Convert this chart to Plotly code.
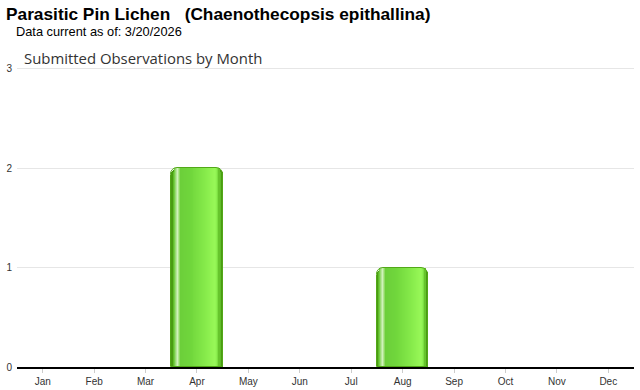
import plotly.graph_objects as go

months = ["Jan", "Feb", "Mar", "Apr", "May", "Jun", "Jul", "Aug", "Sep", "Oct", "Nov", "Dec"]
counts = [0, 0, 0, 2, 0, 0, 0, 1, 0, 0, 0, 0]
y_ticks = [0, 1, 2, 3]

title_text = "Parasitic Pin Lichen\u00a0\u00a0\u00a0(Chaenothecopsis epithallina)"
subtitle_text = "Data current as of: 3/20/2026"
chart_title = "Submitted Observations by Month"

# zero-count months get no bar shape at all
bar_y = [v if v > 0 else None for v in counts]

# --- style: horizontal gradient of each bar (position in px across a 52px bar, colour)
STOPS = [
    (0, "#4A9C12"), (1.5, "#5CB824"), (3, "#66C830"), (5, "#A8E088"),
    (6.5, "#CFF2BA"), (8, "#A0E078"), (9.5, "#6CCF3A"), (20, "#70D63C"),
    (35, "#86EA4A"), (45, "#98F858"), (47, "#88EC4C"), (48.5, "#66C42C"),
    (50, "#4FA414"), (52, "#4A9C12"),
]
BW = 52.0


def hex2rgb(h):
    h = h.lstrip("#")
    return tuple(int(h[i:i + 2], 16) for i in (0, 2, 4))


def col_at(p):
    for (p0, c0), (p1, c1) in zip(STOPS, STOPS[1:]):
        if p0 <= p <= p1:
            t = 0 if p1 == p0 else (p - p0) / (p1 - p0)
            a, b = hex2rgb(c0), hex2rgb(c1)
            return "rgb(%d,%d,%d)" % tuple(round(a[i] + (b[i] - a[i]) * t) for i in range(3))
    return STOPS[-1][1]


fig = go.Figure()

# base dark rounded bar
fig.add_trace(go.Bar(x=months, y=bar_y, width=1.0, offset=-0.5,
                     marker=dict(color="#4A9C12", cornerradius=7, line=dict(width=0)),
                     hoverinfo="skip", showlegend=False))
# inner rounded bar
fig.add_trace(go.Bar(x=months, y=bar_y, width=(50 - 1.5) / BW, offset=-0.5 + 1.5 / BW,
                     marker=dict(color=col_at(2), cornerradius=6, line=dict(width=0)),
                     hoverinfo="skip", showlegend=False))
# gradient stripes
for px in range(3, 49):
    fig.add_trace(go.Bar(x=months, y=bar_y, width=1.15 / BW, offset=-0.5 + px / BW,
                         marker=dict(color=col_at(px + 0.5), line=dict(width=0)),
                         hoverinfo="skip", showlegend=False))
# outline
fig.add_trace(go.Bar(x=months, y=bar_y, width=1.0, offset=-0.5,
                     marker=dict(color="rgba(0,0,0,0)", cornerradius=7,
                                 line=dict(width=1, color="#52A818")),
                     hoverinfo="skip", showlegend=False))

T, B = 66, 23
H = 390
ph = H - T - B
Y_TOP = 3.03


def py(ypx):
    return (H - B - ypx) / ph


fig.update_layout(
    width=640, height=390,
    margin=dict(l=17, r=6, t=T, b=B, autoexpand=False),
    paper_bgcolor="white", plot_bgcolor="white",
    barmode="overlay", bargap=0,
    showlegend=False,
    font=dict(family="Liberation Sans, Arial, sans-serif", color="#333333"),
    xaxis=dict(type="category", showline=True, linecolor="#000000", linewidth=2,
               ticks="outside", ticklen=4, tickcolor="#cccccc", tickwidth=1,
               showgrid=False, tickfont=dict(size=10, color="#333333"),
               range=[-0.5, 11.5], fixedrange=True, automargin=False),
    yaxis=dict(range=[0, Y_TOP], tickvals=y_ticks, showgrid=True, gridcolor="#e6e6e6",
               gridwidth=1, zeroline=False, showline=False, ticks="",
               ticklabelstandoff=4,
               tickfont=dict(size=10, color="#333333"), fixedrange=True, automargin=False),
    annotations=[
        dict(text="<b>" + title_text + "</b>", xref="paper", yref="paper",
             x=-13 / 617, y=py(14), xanchor="left", yanchor="middle", showarrow=False,
             font=dict(size=17.3, color="#000000", family="Liberation Sans, Arial, sans-serif")),
        dict(text=subtitle_text, xref="paper", yref="paper",
             x=-3 / 617, y=py(31), xanchor="left", yanchor="middle", showarrow=False,
             font=dict(size=12.8, color="#000000", family="Liberation Sans, Arial, sans-serif")),
        dict(text=chart_title, xref="paper", yref="paper",
             x=5 / 617, y=py(58), xanchor="left", yanchor="middle", showarrow=False,
             font=dict(size=14.9, color="#333333", family="Open Sans, sans-serif")),
    ],
)

fig.write_html("out.html")
